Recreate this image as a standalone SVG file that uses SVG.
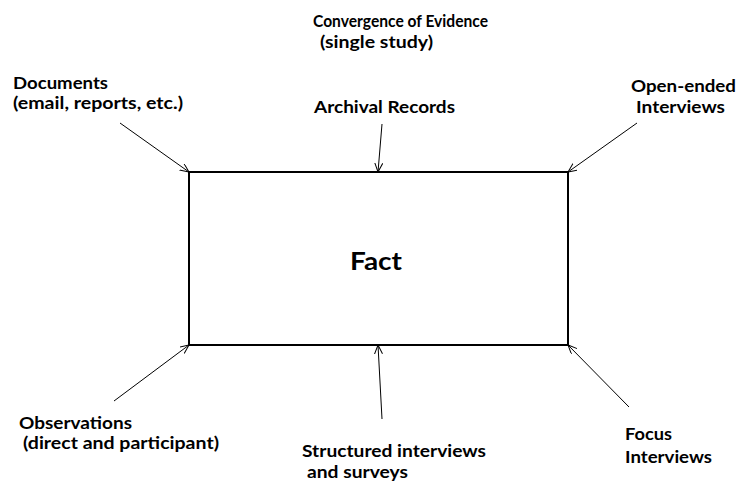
<svg xmlns="http://www.w3.org/2000/svg" width="738" height="485" viewBox="0 0 738 485">
  <style>
    .lbl { font-family: Lato, "Open Sans", "Liberation Sans", sans-serif; font-weight: 700; font-size: 17px; fill: #000; }
    .big { font-size: 25px; }
    .box { fill: #fff; stroke: #000; stroke-width: 2; }
    .edge { stroke: #000; stroke-width: 1; fill: none; marker-end: url(#arrow); }
  </style>
  <defs>
    <marker id="arrow" markerWidth="10" markerHeight="10" refX="9" refY="4" orient="auto" markerUnits="userSpaceOnUse">
      <path d="M0,0 L9,4 L0,8" fill="none" stroke="#000" stroke-width="1"/>
    </marker>
  </defs>

  <rect width="738" height="485" fill="#fff"/>

  <g id="title">
    <text class="lbl" x="313" y="27" textLength="175" lengthAdjust="spacingAndGlyphs">Convergence of Evidence</text>
    <text class="lbl" x="320" y="48" textLength="113" lengthAdjust="spacingAndGlyphs">(single study)</text>
  </g>

  <g id="fact">
    <rect class="box" x="189" y="172" width="379" height="173"/>
    <text class="lbl big" x="350" y="270" textLength="52" lengthAdjust="spacingAndGlyphs">Fact</text>
  </g>

  <g id="documents">
    <text class="lbl" x="13" y="89" textLength="95" lengthAdjust="spacingAndGlyphs">Documents</text>
    <text class="lbl" x="13" y="109" textLength="170" lengthAdjust="spacingAndGlyphs">(email, reports, etc.)</text>
  </g>

  <g id="archival-records">
    <text class="lbl" x="314" y="113" textLength="141" lengthAdjust="spacingAndGlyphs">Archival Records</text>
  </g>

  <g id="open-ended-interviews">
    <text class="lbl" x="631" y="92" textLength="105" lengthAdjust="spacingAndGlyphs">Open-ended</text>
    <text class="lbl" x="636" y="113" textLength="89" lengthAdjust="spacingAndGlyphs">Interviews</text>
  </g>

  <g id="observations">
    <text class="lbl" x="19" y="429" textLength="113" lengthAdjust="spacingAndGlyphs">Observations</text>
    <text class="lbl" x="23" y="449" textLength="196" lengthAdjust="spacingAndGlyphs">(direct and participant)</text>
  </g>

  <g id="structured-interviews">
    <text class="lbl" x="302" y="457" textLength="184" lengthAdjust="spacingAndGlyphs">Structured interviews</text>
    <text class="lbl" x="307" y="478" textLength="101" lengthAdjust="spacingAndGlyphs">and surveys</text>
  </g>

  <g id="focus-interviews">
    <text class="lbl" x="625" y="440" textLength="47" lengthAdjust="spacingAndGlyphs">Focus</text>
    <text class="lbl" x="625" y="463" textLength="87" lengthAdjust="spacingAndGlyphs">Interviews</text>
  </g>

  <g id="connectors">
    <line class="edge" x1="120" y1="123" x2="189" y2="172"/>
    <line class="edge" x1="382" y1="124" x2="378" y2="172"/>
    <line class="edge" x1="637" y1="123" x2="568" y2="172"/>
    <line class="edge" x1="114" y1="401" x2="189" y2="345"/>
    <line class="edge" x1="382" y1="419" x2="378" y2="345"/>
    <line class="edge" x1="629" y1="407" x2="568" y2="345"/>
  </g>
</svg>
